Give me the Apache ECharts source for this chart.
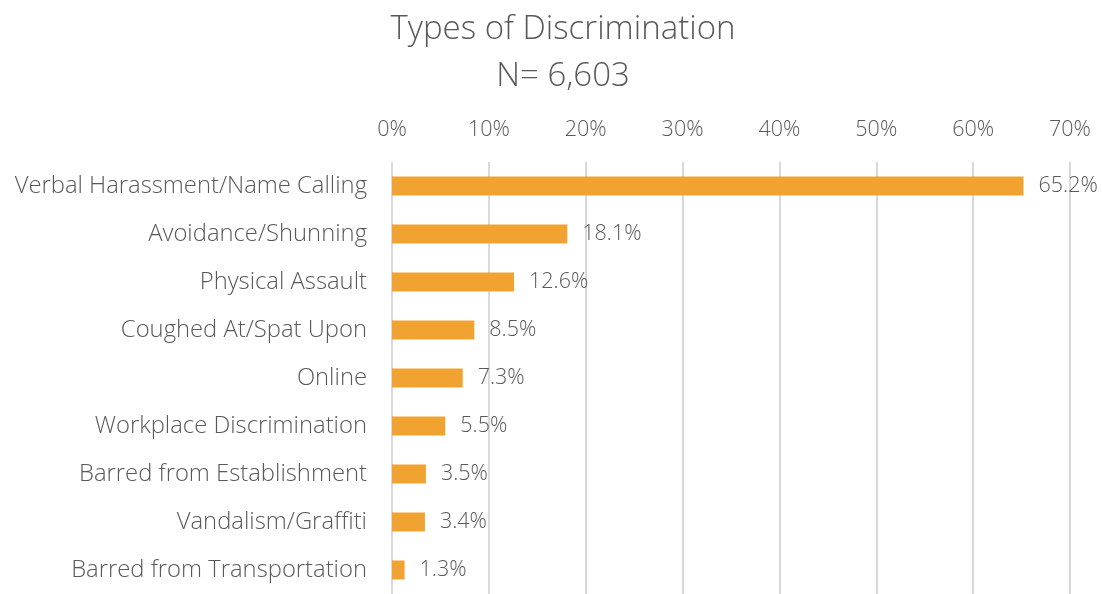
<!DOCTYPE html>
<html>
<head>
<meta charset="utf-8">
<script src="https://cdn.jsdelivr.net/npm/echarts@6/dist/echarts.min.js"></script>
<style>
  html, body { margin: 0; padding: 0; background: #fff; }
  #chart { width: 1102px; height: 594px; }
</style>
</head>
<body>
<div id="chart"></div>
<script>
// Discrimination types, most frequent first
const categories = [
  'Verbal Harassment/Name Calling',
  'Avoidance/Shunning',
  'Physical Assault',
  'Coughed At/Spat Upon',
  'Online',
  'Workplace Discrimination',
  'Barred from Establishment',
  'Vandalism/Graffiti',
  'Barred from Transportation'
];
// Share of reports, in percent
const shares = [65.2, 18.1, 12.6, 8.5, 7.3, 5.5, 3.5, 3.4, 1.3];
const titleText = 'Types of Discrimination';
const subtitleText = 'N= 6,603';

const FONT = '"Open Sans", Lato, sans-serif';
const GREY = '#595959';

const chart = echarts.init(document.getElementById('chart'));
chart.setOption({
  animation: false,
  title: {
    text: titleText + '\n' + subtitleText,
    left: 558,
    top: 1,
    textAlign: 'center',
    textStyle: {
      fontFamily: FONT,
      fontSize: 33,
      fontWeight: 300,
      color: GREY,
      lineHeight: 47
    }
  },
  grid: { left: 392, right: 32, top: 162, bottom: -2, containLabel: false },
  xAxis: {
    type: 'value',
    position: 'top',
    min: 0,
    max: 70,
    interval: 10,
    axisLine: { show: false },
    axisTick: { show: false },
    axisLabel: {
      formatter: '{value}%',
      fontFamily: FONT,
      fontSize: 21.5,
      fontWeight: 300,
      color: GREY,
      margin: 21
    },
    splitLine: { lineStyle: { color: '#d9d9d9', width: 2 } }
  },
  yAxis: {
    type: 'category',
    inverse: true,
    data: categories,
    axisLine: { show: false },
    axisTick: { show: false },
    axisLabel: {
      fontFamily: FONT,
      fontSize: 23.8,
      fontWeight: 300,
      color: GREY,
      margin: 25
    }
  },
  series: [{
    type: 'bar',
    data: shares,
    barWidth: 19,
    itemStyle: { color: '#F0A330' },
    label: {
      show: true,
      position: 'right',
      distance: 15,
      formatter: p => p.value.toFixed(1) + '%',
      fontFamily: FONT,
      fontSize: 21.5,
      fontWeight: 300,
      color: GREY
    }
  }]
});
</script>
</body>
</html>
